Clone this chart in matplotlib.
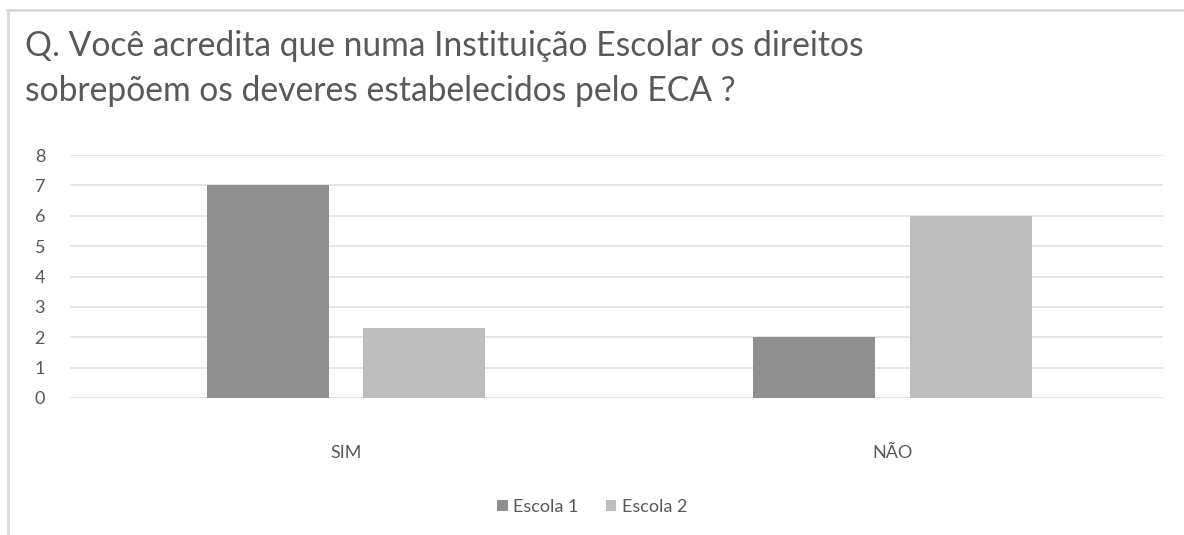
import matplotlib
matplotlib.use("Agg")
import matplotlib.pyplot as plt
from matplotlib.lines import Line2D
import numpy as np

categories = ["SIM", "NÃO"]
series_names = ["Escola 1", "Escola 2"]
escola1 = [7, 2]
escola2 = [2.3, 6]
y_ticks = [0, 1, 2, 3, 4, 5, 6, 7, 8]
title_lines = ["Q. Você acredita que numa Instituição Escolar os direitos",
               "sobrepõem os deveres estabelecidos pelo ECA ?"]

plt.rcParams['font.family'] = ['Lato', 'DejaVu Sans']
text_color = "#595959"
colors = ["#8f8f8f", "#bdbdbd"]

fig = plt.figure(figsize=(11.84, 5.35), dpi=100)
fig.patch.set_facecolor("white")

# frame of the chart area
fig.add_artist(Line2D([7/1184, 1.0], [1 - 10/535, 1 - 10/535], color="#d9d9d9", lw=2))
fig.add_artist(Line2D([8/1184, 8/1184], [0, 1 - 10/535], color="#d9d9d9", lw=2))

fig.text(25/1184, 1 - 56/535, title_lines[0], fontsize=24.2, color=text_color, va="baseline")
fig.text(25/1184, 1 - 101/535, title_lines[1], fontsize=24.2, color=text_color, va="baseline")

ax = fig.add_axes([70/1184, 1 - 398/535, (1163 - 70)/1184, (398 - 155)/535])
x = np.arange(len(categories))
width = 0.223
offset = 0.143
b1 = ax.bar(x - offset, escola1, width, color=colors[0], label=series_names[0], zorder=3)
b2 = ax.bar(x + offset, escola2, width, color=colors[1], label=series_names[1], zorder=3)

ax.set_xlim(-0.505, 1.495)
ax.set_ylim(0, 8)
ax.set_yticks(y_ticks)
ax.set_xticks(x)
ax.set_xticklabels(categories)
ax.grid(axis="y", color="#e3e3e3", lw=1.3, zorder=0)
for s in ax.spines.values():
    s.set_visible(False)
ax.tick_params(axis="both", length=0, labelsize=13, labelcolor=text_color)
ax.tick_params(axis="y", pad=18)
ax.tick_params(axis="x", pad=34)

leg = fig.legend(handles=[b1, b2], labels=series_names, loc="center",
                 bbox_to_anchor=(592/1184, 1 - 507/535), ncol=2, frameon=False,
                 fontsize=13, handlelength=0.6, handleheight=0.6, handletextpad=0.3,
                 columnspacing=1.5, labelcolor=text_color)

fig.savefig("out.png", dpi=100, facecolor="white")
